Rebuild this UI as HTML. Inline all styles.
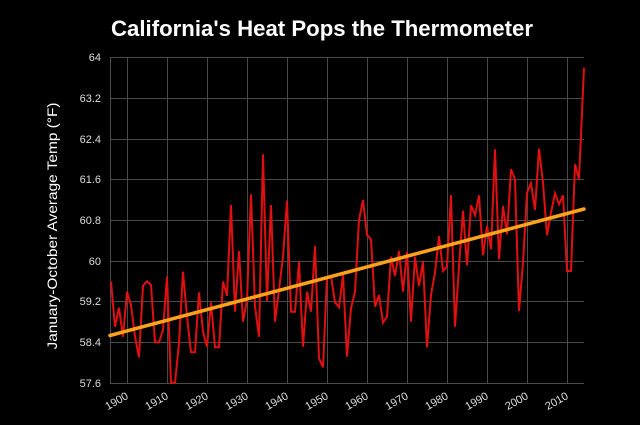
<!DOCTYPE html>
<html><head><meta charset="utf-8"><style>
html,body{margin:0;padding:0;background:#000;}
svg{display:block;}
text{font-family:"Liberation Sans",Arial,sans-serif;}
</style></head><body>
<svg width="640" height="425" viewBox="0 0 640 425" xmlns="http://www.w3.org/2000/svg">
<rect width="640" height="425" fill="#000"/>
<text x="322" y="36" text-anchor="middle" font-size="22" font-weight="bold" fill="#fff" textLength="422" lengthAdjust="spacingAndGlyphs">California's Heat Pops the Thermometer</text>
<text transform="translate(57,226) rotate(-90)" text-anchor="middle" font-size="14" fill="#fff" textLength="247" lengthAdjust="spacingAndGlyphs">January-October Average Temp (°F)</text>
<g stroke="#4a4a4a" stroke-width="1" shape-rendering="crispEdges">
<line x1="110" y1="57.5" x2="584" y2="57.5"/>
<line x1="110" y1="98.5" x2="584" y2="98.5"/>
<line x1="110" y1="139.5" x2="584" y2="139.5"/>
<line x1="110" y1="179.5" x2="584" y2="179.5"/>
<line x1="110" y1="220.5" x2="584" y2="220.5"/>
<line x1="110" y1="261.5" x2="584" y2="261.5"/>
<line x1="110" y1="301.5" x2="584" y2="301.5"/>
<line x1="110" y1="342.5" x2="584" y2="342.5"/>
<line x1="110" y1="383.5" x2="584" y2="383.5"/>
<line x1="110.5" y1="57" x2="110.5" y2="384"/>
<line x1="127.5" y1="57" x2="127.5" y2="384"/>
<line x1="167.5" y1="57" x2="167.5" y2="384"/>
<line x1="207.5" y1="57" x2="207.5" y2="384"/>
<line x1="247.5" y1="57" x2="247.5" y2="384"/>
<line x1="287.5" y1="57" x2="287.5" y2="384"/>
<line x1="327.5" y1="57" x2="327.5" y2="384"/>
<line x1="367.5" y1="57" x2="367.5" y2="384"/>
<line x1="407.5" y1="57" x2="407.5" y2="384"/>
<line x1="447.5" y1="57" x2="447.5" y2="384"/>
<line x1="487.5" y1="57" x2="487.5" y2="384"/>
<line x1="527.5" y1="57" x2="527.5" y2="384"/>
<line x1="567.5" y1="57" x2="567.5" y2="384"/>
</g>
<g font-size="11" fill="#ddd" text-anchor="end">
<text x="101" y="61">64</text>
<text x="101" y="102">63.2</text>
<text x="101" y="143">62.4</text>
<text x="101" y="183">61.6</text>
<text x="101" y="224">60.8</text>
<text x="101" y="265">60</text>
<text x="101" y="305">59.2</text>
<text x="101" y="346">58.4</text>
<text x="101" y="387">57.6</text>
</g>
<g font-size="11" fill="#ddd" text-anchor="end">
<text transform="translate(129,398) rotate(-30)">1900</text>
<text transform="translate(169,398) rotate(-30)">1910</text>
<text transform="translate(209,398) rotate(-30)">1920</text>
<text transform="translate(249,398) rotate(-30)">1930</text>
<text transform="translate(289,398) rotate(-30)">1940</text>
<text transform="translate(329,398) rotate(-30)">1950</text>
<text transform="translate(369,398) rotate(-30)">1960</text>
<text transform="translate(409,398) rotate(-30)">1970</text>
<text transform="translate(449,398) rotate(-30)">1980</text>
<text transform="translate(489,398) rotate(-30)">1990</text>
<text transform="translate(529,398) rotate(-30)">2000</text>
<text transform="translate(569,398) rotate(-30)">2010</text>
</g>
<polyline fill="none" stroke="#e01010" stroke-width="2" stroke-linejoin="miter" points="
111,281.7 115,326.7 119,307.7 123,336.7 127,291.7 131,305 135,336.7 139,357.3 143,285.7 147,281.3
151,285 155,342.3 159,342.3 163,330 167,276.7 171,382.7 175,382.7 179,343.3 183,271.7 187,316.7
191,352.3 195,352.3 199,292.3 203,331.7 207,346.7 211,302.3 215,347.3 219,347.3 223,281.7 227,295.7
231,205 235,311.7 239,251 243,321.7 247,300 251,194.3 255,306.7 259,336.7 263,154.3 267,301
271,205 275,321.7 279,290 283,256.7 287,200.7 291,311.7 295,311.7 299,261.7 303,346.7 307,291.7
311,311.7 315,246 319,358.3 323,367.3 327,276.7 331,276 335,302.3 339,307.3 343,275 347,356.7
351,308.3 355,291.7 359,220 363,200 367,235 371,239.3 375,306.7 379,295 383,322.7 387,316.7
391,256.7 395,276 399,251 403,291.7 407,251.7 411,321.7 415,256.7 419,286 423,261.7 427,347.3
431,295 435,272.7 439,236 443,271 447,266.7 451,195 455,326.7 459,266.7 463,210.7 467,265.3
471,205.3 475,215.3 479,195.3 483,255.3 487,226 491,249.3 495,149.3 499,259.3 503,206 507,234.3
511,169.3 515,179.3 519,311 523,262.7 527,192.7 531,183.3 535,210 539,148.7 543,182.7 547,235.3
551,212.7 555,193.3 559,204.3 563,195.3 567,271 571,271 575,164.3 579,179.3 584,67.7"/>
<line x1="110" y1="335.5" x2="584" y2="209" stroke="#ffa31a" stroke-width="3.5" stroke-linecap="round"/>
</svg>
</body></html>
